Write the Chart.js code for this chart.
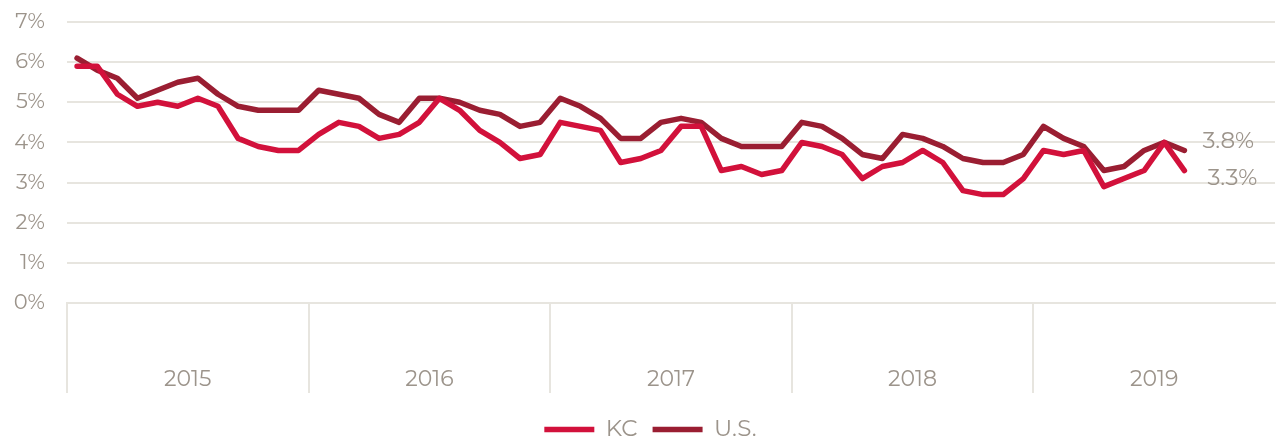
<!DOCTYPE html>
<html>
<head>
<meta charset="utf-8">
<script src="https://cdn.jsdelivr.net/npm/chart.js@4.4.1/dist/chart.umd.min.js"></script>
<style>
  html, body { margin: 0; padding: 0; background: #ffffff; }
  #wrap { width: 1277px; height: 439px; position: relative; }
</style>
</head>
<body>
<div id="wrap"><canvas id="c"></canvas></div>
<script>
// ---- data ----
const years = ['2015', '2016', '2017', '2018', '2019'];
const months = ['Jan','Feb','Mar','Apr','May','Jun','Jul','Aug','Sep','Oct','Nov','Dec'];
const categories = [];
years.forEach(y => months.forEach(m => categories.push(m + ' ' + y)));

const kc = [
  5.9, 5.9, 5.2, 4.9, 5.0, 4.9, 5.1, 4.9, 4.1, 3.9, 3.8, 3.8,
  4.2, 4.5, 4.4, 4.1, 4.2, 4.5, 5.1, 4.8, 4.3, 4.0, 3.6, 3.7,
  4.5, 4.4, 4.3, 3.5, 3.6, 3.8, 4.4, 4.4, 3.3, 3.4, 3.2, 3.3,
  4.0, 3.9, 3.7, 3.1, 3.4, 3.5, 3.8, 3.5, 2.8, 2.7, 2.7, 3.1,
  3.8, 3.7, 3.8, 2.9, 3.1, 3.3, 4.0, 3.3
];
const us = [
  6.1, 5.8, 5.6, 5.1, 5.3, 5.5, 5.6, 5.2, 4.9, 4.8, 4.8, 4.8,
  5.3, 5.2, 5.1, 4.7, 4.5, 5.1, 5.1, 5.0, 4.8, 4.7, 4.4, 4.5,
  5.1, 4.9, 4.6, 4.1, 4.1, 4.5, 4.6, 4.5, 4.1, 3.9, 3.9, 3.9,
  4.5, 4.4, 4.1, 3.7, 3.6, 4.2, 4.1, 3.9, 3.6, 3.5, 3.5, 3.7,
  4.4, 4.1, 3.9, 3.3, 3.4, 3.8, 4.0, 3.8
];
const yTicks = [0, 1, 2, 3, 4, 5, 6, 7];
const seriesNames = ['KC', 'U.S.'];

// ---- styles ----
const FONT = 'Montserrat, "Open Sans", sans-serif';
const TEXT = '#9c948b';
const GRID = '#e7e5df';
const COLORS = ['#d2113b', '#9a1e32'];
const LABEL_OFFSETS = [{dx: 23, dy: 8}, {dx: 18, dy: -9}];
const LEGEND_SHIFT = 13;

const endLabels = {
  id: 'endLabels',
  afterDatasetsDraw(chart) {
    const ctx = chart.ctx;
    ctx.save();
    ctx.font = '23px ' + FONT;
    ctx.fillStyle = TEXT;
    ctx.textAlign = 'left';
    ctx.textBaseline = 'middle';
    chart.data.datasets.forEach((ds, i) => {
      const meta = chart.getDatasetMeta(i);
      const last = ds.data.length - 1;
      const pt = meta.data[last];
      const off = LABEL_OFFSETS[i];
      ctx.fillText(ds.data[last].toFixed(1) + '%', pt.x + off.dx, pt.y + off.dy);
    });
    ctx.restore();
  }
};

const legendShift = {
  id: 'legendShift',
  afterLayout(chart) {
    if (chart.legend) {
      chart.legend.left += LEGEND_SHIFT;
      chart.legend.right += LEGEND_SHIFT;
    }
  }
};

new Chart(document.getElementById('c'), {
  type: 'line',
  data: {
    labels: categories,
    datasets: [
      { label: seriesNames[0], data: kc, borderColor: COLORS[0], backgroundColor: COLORS[0] },
      { label: seriesNames[1], data: us, borderColor: COLORS[1], backgroundColor: COLORS[1] }
    ].map(d => Object.assign(d, {
      borderWidth: 5.5, pointRadius: 0, tension: 0, fill: false,
      borderCapStyle: 'round', borderJoinStyle: 'round', xAxisID: 'x', yAxisID: 'y'
    }))
  },
  options: {
    responsive: true,
    maintainAspectRatio: false,
    animation: false,
    layout: { padding: { top: 22, right: 2, left: 0, bottom: -12 } },
    plugins: {
      tooltip: { enabled: false },
      legend: {
        position: 'bottom',
        labels: {
          usePointStyle: true,
          pointStyle: 'line',
          pointStyleWidth: 50,
          boxHeight: 23,
          color: TEXT,
          font: { family: FONT, size: 23 },
          padding: 15
        }
      }
    },
    scales: {
      x: {
        type: 'category',
        display: false,
        offset: true
      },
      x2: {
        type: 'category',
        labels: years,
        position: 'bottom',
        offset: true,
        grid: {
          offset: true,
          drawOnChartArea: false,
          tickLength: 90,
          lineWidth: 2,
          color: ctx => (ctx.type === 'tick' ? GRID : 'rgba(0,0,0,0)')
        },
        border: { display: true, color: GRID, width: 2 },
        ticks: {
          color: TEXT,
          font: { family: FONT, size: 22 },
          padding: -27,
          maxRotation: 0,
          autoSkip: false
        },
        afterFit: s => { s.height = 100; s.paddingLeft = 0; s.paddingRight = 0; }
      },
      y: {
        min: 0, max: 7,
        afterBuildTicks: s => { s.ticks = yTicks.map(v => ({ value: v })); },
        grid: { color: GRID, lineWidth: 2, drawTicks: false },
        border: { display: false },
        ticks: {
          color: TEXT,
          font: { family: FONT, size: 21 },
          padding: 22,
          callback: v => v + '%'
        },
        afterFit: s => { s.width = 67; s.paddingTop = 0; s.paddingBottom = 0; }
      }
    }
  },
  plugins: [endLabels, legendShift]
});
</script>
</body>
</html>
